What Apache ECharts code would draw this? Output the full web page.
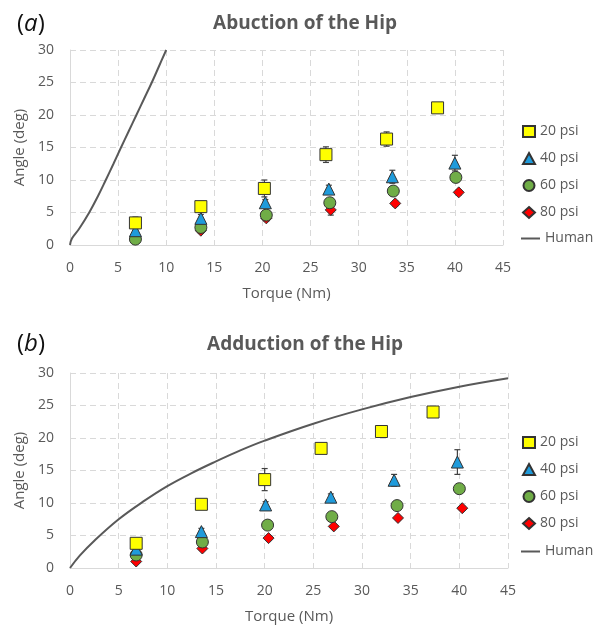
<!DOCTYPE html>
<html>
<head>
<meta charset="utf-8">
<script src="https://cdn.jsdelivr.net/npm/echarts@6/dist/echarts.min.js"></script>
<style>
  html, body { margin: 0; padding: 0; background: #fff; }
  #chart { width: 596px; height: 626px; }
</style>
</head>
<body>
<div id="chart"></div>
<script>
// ---- data ----
var psiNames = ['20 psi', '40 psi', '60 psi', '80 psi'];

// (a) abduction
var a20 = [[6.8, 3.4], [13.6, 5.9], [20.2, 8.7], [26.6, 13.9], [32.9, 16.3], [38.2, 21.1]];
var a40 = [[6.8, 2.2], [13.6, 4.1], [20.3, 6.5], [26.9, 8.6], [33.5, 10.5], [40.0, 12.6]];
var a60 = [[6.8, 0.9], [13.6, 2.7], [20.4, 4.6], [27.0, 6.5], [33.6, 8.3], [40.1, 10.4]];
var a80 = [[6.8, 0.9], [13.6, 2.2], [20.4, 4.1], [27.1, 5.4], [33.8, 6.4], [40.4, 8.1]];
var aErr20 = [0.9, 0.8, 1.3, 1.2, 1.1, 0.6];
var aErr40 = [0.5, 0.6, 0.5, 0.6, 1.0, 1.2];
var aErr60 = [0.5, 0.5, 0.4, 0.6, 0.6, 0.7];
var aErr80 = [0.5, 0.4, 0.4, 0.8, 0.4, 0.4];
var aHuman = [[0, 0], [0.2, 1], [0.95, 2.5], [2.0, 5], [2.9, 7.5], [3.72, 10], [4.52, 12.5], [5.3, 15],
              [6.1, 17.5], [6.9, 20], [7.7, 22.5], [8.5, 25], [9.25, 27.5], [10, 30]];

// (b) adduction
var b20 = [[6.8, 3.8], [13.5, 9.8], [20.0, 13.6], [25.8, 18.4], [32.0, 21.0], [37.3, 24.0]];
var b40 = [[6.8, 2.9], [13.5, 5.6], [20.1, 9.7], [26.8, 10.9], [33.3, 13.5], [39.8, 16.3]];
var b60 = [[6.8, 2.0], [13.6, 4.0], [20.3, 6.6], [26.9, 7.9], [33.6, 9.6], [40.0, 12.2]];
var b80 = [[6.8, 1.0], [13.6, 3.0], [20.4, 4.6], [27.1, 6.4], [33.7, 7.7], [40.3, 9.2]];
var bErr20 = [0.4, 0.4, 1.7, 0.4, 0.4, 0.4];
var bErr40 = [0.5, 0.5, 0.5, 0.5, 0.9, 1.9];
var bErr60 = [0.3, 0.3, 0.3, 0.3, 0.3, 0.3];
var bErr80 = [0.3, 0.3, 0.3, 0.3, 0.3, 0.3];
var bHuman = [[0, 0], [1, 1.9], [2.5, 4.2], [5, 7.5], [7.5, 10.2], [10, 12.6], [12.5, 14.6], [15, 16.4],
              [17.5, 18.1], [20, 19.6], [25, 22.2], [30, 24.4], [35, 26.3], [40, 27.9], [45, 29.2]];

var xTicks = [0, 5, 10, 15, 20, 25, 30, 35, 40, 45];
var yTicks = [0, 5, 10, 15, 20, 25, 30];

// ---- styles ----
var gray = '#595959';
var font = '"Open Sans", "Noto Sans", sans-serif';
var markers = [
    { symbol: 'rect', size: 12, color: '#FFFF00' },
    { symbol: 'triangle', size: 12, color: '#1F9BDB' },
    { symbol: 'circle', size: 12, color: '#70AD47' },
    { symbol: 'diamond', size: 11, color: '#FF0000' }
];

function withErr(pts, err) {
    return pts.map(function (p, i) { return [p[0], p[1], err[i]]; });
}

function errRender(params, api) {
    var x = api.value(0), y = api.value(1), e = api.value(2);
    var lo = api.coord([x, y - e]);
    var hi = api.coord([x, y + e]);
    var w = 3;
    var st = { stroke: '#404040', lineWidth: 1.2 };
    return {
        type: 'group',
        children: [
            { type: 'line', shape: { x1: lo[0], y1: lo[1], x2: hi[0], y2: hi[1] }, style: st },
            { type: 'line', shape: { x1: lo[0] - w, y1: lo[1], x2: lo[0] + w, y2: lo[1] }, style: st },
            { type: 'line', shape: { x1: hi[0] - w, y1: hi[1], x2: hi[0] + w, y2: hi[1] }, style: st }
        ]
    };
}

function panelSeries(idx, sets, errs, human) {
    var out = [];
    sets.forEach(function (pts, i) {
        out.push({
            type: 'custom', xAxisIndex: idx, yAxisIndex: idx, z: 2,
            renderItem: errRender, data: withErr(pts, errs[i]), silent: true
        });
    });
    // draw in reverse so 20 psi ends on top like the original
    for (var i = sets.length - 1; i >= 0; i--) {
        out.push({
            name: psiNames[i], type: 'scatter', xAxisIndex: idx, yAxisIndex: idx, z: 3,
            symbol: markers[i].symbol, symbolSize: markers[i].size,
            itemStyle: { color: markers[i].color, borderColor: '#333', borderWidth: 1, opacity: 1 },
            data: sets[i]
        });
    }
    out.push({
        name: 'Human', type: 'line', xAxisIndex: idx, yAxisIndex: idx, z: 4,
        symbol: 'none', smooth: 0.4,
        lineStyle: { color: gray, width: 2 }, itemStyle: { color: gray },
        data: human
    });
    return out;
}

function xAxis(idx) {
    return {
        type: 'value', gridIndex: idx, min: 0, max: 45, interval: 5,
        name: 'Torque (Nm)', nameLocation: 'middle', nameGap: 41,
        nameTextStyle: { color: gray, fontSize: 15, fontFamily: font },
        axisLine: { show: true, lineStyle: { color: '#d9d9d9', width: 1 } },
        axisTick: { show: false },
        axisLabel: { color: gray, fontSize: 14, fontFamily: font, margin: 16,
            formatter: function (v) { return xTicks.indexOf(v) >= 0 ? String(v) : ''; } },
        splitLine: { show: true, lineStyle: { color: '#d9d9d9', type: [6, 4] } }
    };
}

function yAxis(idx) {
    return {
        type: 'value', gridIndex: idx, min: 0, max: 30, interval: 5,
        name: 'Angle (deg)', nameLocation: 'middle', nameGap: 40,
        nameTextStyle: { color: gray, fontSize: 15, fontFamily: font },
        axisLine: { show: true, lineStyle: { color: '#d9d9d9', width: 1 } },
        axisTick: { show: false },
        axisLabel: { color: gray, fontSize: 14, fontFamily: font, margin: 16,
            formatter: function (v) { return yTicks.indexOf(v) >= 0 ? String(v) : ''; } },
        splitLine: { show: true, lineStyle: { color: '#d9d9d9', type: [6, 4] } }
    };
}

function markerLegend(top) {
    return {
        orient: 'vertical', left: 517, top: top,
        data: psiNames,
        itemWidth: 12, itemHeight: 11, itemGap: 12,
        textStyle: { color: gray, fontSize: 14, fontFamily: font, lineHeight: 15 },
        selectedMode: false
    };
}

function humanLegend(top) {
    return {
        orient: 'vertical', left: 516, top: top,
        data: [{ name: 'Human', icon: 'rect' }],
        itemWidth: 19, itemHeight: 2,
        itemStyle: { color: gray },
        textStyle: { color: gray, fontSize: 14, fontFamily: font, lineHeight: 15 },
        selectedMode: false
    };
}

var chart = echarts.init(document.getElementById('chart'), null, { renderer: 'canvas' });
chart.setOption({
    animation: false,
    backgroundColor: '#fff',
    title: [
        { text: 'Abuction of the Hip', left: 300, top: 9, textAlign: 'center',
          textStyle: { color: gray, fontSize: 19, fontWeight: 'bold', fontFamily: font } },
        { text: 'Adduction of the Hip', left: 300, top: 330, textAlign: 'center',
          textStyle: { color: gray, fontSize: 19, fontWeight: 'bold', fontFamily: font } },
        { text: '({a|a})', left: 12, top: 7,
          textStyle: { color: '#111', fontSize: 24, fontWeight: 'normal', fontFamily: font,
                       rich: { a: { fontStyle: 'italic', fontSize: 24, color: '#111', fontFamily: font } } } },
        { text: '({b|b})', left: 12, top: 327,
          textStyle: { color: '#111', fontSize: 24, fontWeight: 'normal', fontFamily: font,
                       rich: { b: { fontStyle: 'italic', fontSize: 24, color: '#111', fontFamily: font } } } }
    ],
    legend: [markerLegend(119), humanLegend(226), markerLegend(430), humanLegend(539)],
    grid: [
        { left: 70, top: 50, width: 433, height: 195 },
        { left: 70, top: 373, width: 438, height: 195 }
    ],
    xAxis: [xAxis(0), xAxis(1)],
    yAxis: [yAxis(0), yAxis(1)],
    series: panelSeries(0, [a20, a40, a60, a80], [aErr20, aErr40, aErr60, aErr80], aHuman)
        .concat(panelSeries(1, [b20, b40, b60, b80], [bErr20, bErr40, bErr60, bErr80], bHuman))
});
</script>
</body>
</html>
